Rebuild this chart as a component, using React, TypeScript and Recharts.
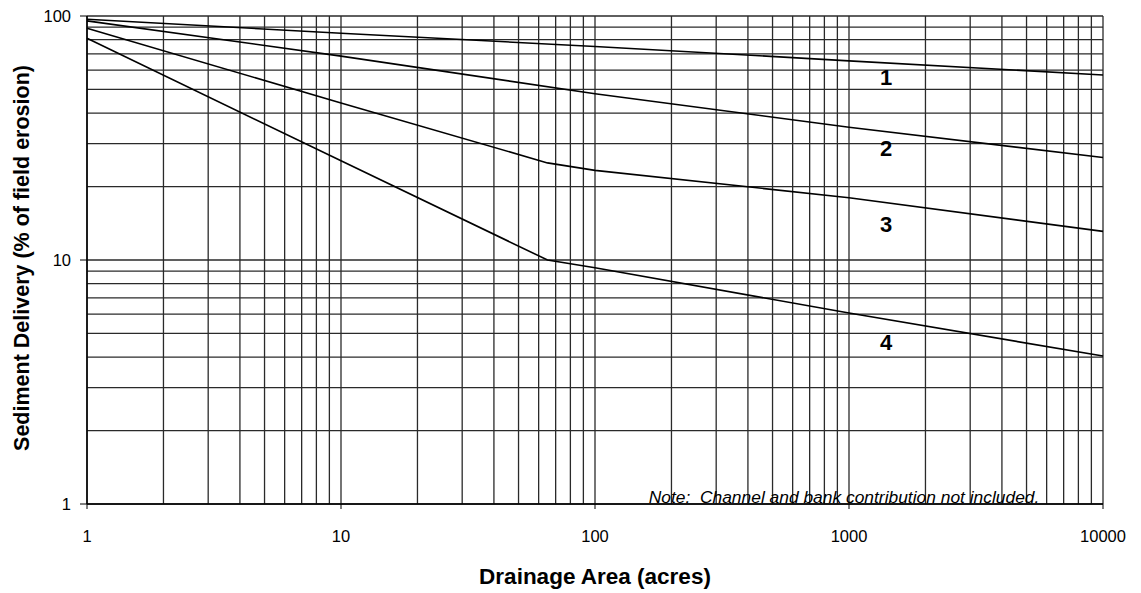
import { LineChart, Line, XAxis, YAxis, ReferenceLine, ReferenceDot } from 'recharts'

// drainage area (acres) where each curve was read
const areaStraight = [1, 10, 100, 1000, 10000]
const areaKinked = [1, 10, 65, 100, 1000, 10000]

// sediment delivery, % of field erosion
const curve1 = [97, 85, 75, 65.5, 57.3]
const curve2 = [95.5, 68.5, 48, 35, 26.3]
const curve3 = [89, 44, 25, 23.3, 18, 13.1]
const curve4 = [81, 25.5, 10, 9.3, 6.06, 4.04]

const xTicks = [1, 10, 100, 1000, 10000]
const yTicks = [1, 10, 100]

// curve number labels, placed near x = 1400 acres
const curveLabels = [
  { name: '1', area: 1400, value: 56 },
  { name: '2', area: 1400, value: 28.8 },
  { name: '3', area: 1400, value: 14 },
  { name: '4', area: 1400, value: 4.6 },
]

const note = 'Note:\u00a0 Channel and bank contribution not included.'

// log grid: 1..9 in every decade
const xGrid = [1, 10, 100, 1000].flatMap((d) => [1, 2, 3, 4, 5, 6, 7, 8, 9].map((m) => m * d)).concat([10000])
const yGrid = [1, 10].flatMap((d) => [1, 2, 3, 4, 5, 6, 7, 8, 9].map((m) => m * d)).concat([100])

const toPoints = (xs: number[], ys: number[]) => xs.map((x, i) => ({ area: x, value: ys[i] }))

const series = [
  { key: 'c1', data: toPoints(areaStraight, curve1) },
  { key: 'c2', data: toPoints(areaStraight, curve2) },
  { key: 'c3', data: toPoints(areaKinked, curve3) },
  { key: 'c4', data: toPoints(areaKinked, curve4) },
]

const font = '"Liberation Sans", Arial, sans-serif'

export default function App() {
  return (
    <div style={{ position: 'absolute', left: 0, top: 0, width: 1141, height: 593, background: '#fff', fontFamily: font }}>
      <LineChart width={1141} height={593} margin={{ top: 16, right: 38, bottom: 59, left: 0 }}>
        <XAxis
          dataKey="area"
          type="number"
          scale="log"
          domain={[1, 10000]}
          ticks={xTicks}
          allowDuplicatedCategory={false}
          height={30}
          tickSize={5}
          tickMargin={21}
          axisLine={{ stroke: '#000', strokeWidth: 1.5 }}
          tickLine={{ stroke: '#000' }}
          tick={{ fontSize: 16.5, fill: '#000', fontFamily: font }}
        />
        <YAxis
          dataKey="value"
          type="number"
          scale="log"
          domain={[1, 100]}
          ticks={yTicks}
          width={87}
          tickSize={7}
          tickMargin={9}
          axisLine={{ stroke: '#000', strokeWidth: 1.5 }}
          tickLine={{ stroke: '#000' }}
          tick={{ fontSize: 16.5, fill: '#000', fontFamily: font }}
        />
        {xGrid.map((v) => (
          <ReferenceLine key={'x' + v} x={v} stroke="#2a2a2a" strokeWidth={1.3} />
        ))}
        {yGrid.map((v) => (
          <ReferenceLine key={'y' + v} y={v} stroke="#2a2a2a" strokeWidth={1.3} />
        ))}
        {series.map((s) => (
          <Line
            key={s.key}
            data={s.data}
            dataKey="value"
            type="linear"
            stroke="#000"
            strokeWidth={1.6}
            dot={false}
            isAnimationActive={false}
          />
        ))}
        {curveLabels.map((l) => (
          <ReferenceDot
            key={l.name}
            x={l.area}
            y={l.value}
            r={0}
            fill="none"
            stroke="none"
            label={{ value: l.name, position: 'center', fontSize: 22, fontWeight: 700, fill: '#000', fontFamily: font }}
          />
        ))}
        <ReferenceDot
          x={956}
          y={1.07}
          r={0}
          fill="none"
          stroke="none"
          label={{ value: note, position: 'center', fontSize: 17.4, fontStyle: 'italic', fill: '#000', fontFamily: font }}
        />
      </LineChart>

      <div
        style={{
          position: 'absolute',
          left: 22,
          top: 258,
          transform: 'translate(-50%, -50%) rotate(-90deg)',
          whiteSpace: 'nowrap',
          fontSize: 21.5,
          fontWeight: 700,
        }}
      >
        Sediment Delivery (% of field erosion)
      </div>
      <div
        style={{
          position: 'absolute',
          left: 595,
          top: 577,
          transform: 'translate(-50%, -50%)',
          whiteSpace: 'nowrap',
          fontSize: 22.5,
          fontWeight: 700,
        }}
      >
        Drainage Area (acres)
      </div>
    </div>
  )
}
